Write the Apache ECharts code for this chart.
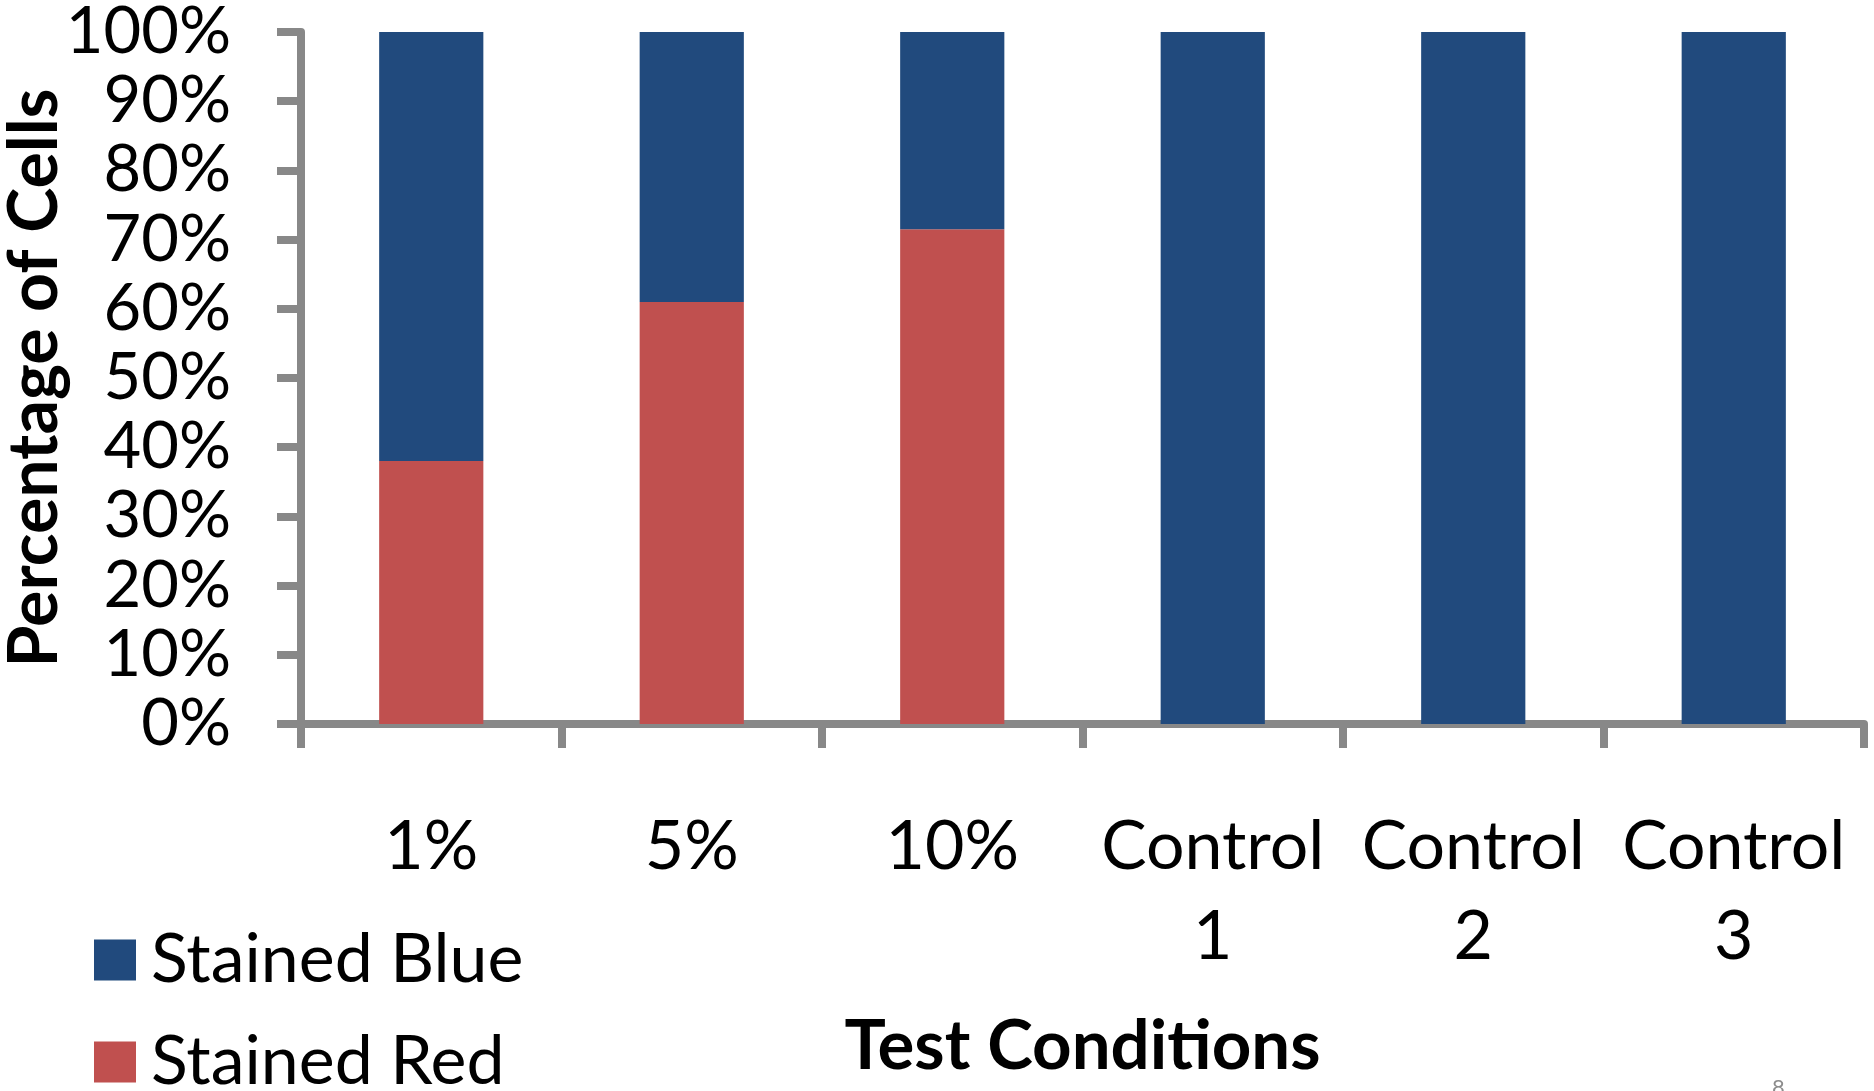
<!DOCTYPE html>
<html>
<head>
<meta charset="utf-8">
<script src="https://cdn.jsdelivr.net/npm/echarts@6/dist/echarts.min.js"></script>
<style>
  html, body { margin: 0; padding: 0; background: #fff; }
  #chart { width: 1874px; height: 1091px; }
</style>
</head>
<body>
<div id="chart"></div>
<script>
// Test conditions along the x axis
const categories = ['1%', '5%', '10%', 'Control\n1', 'Control\n2', 'Control\n3'];
// Share of cells stained red (bottom segment), in percent
const stainedRed = [38, 61, 71.5, 0, 0, 0];
// Share of cells stained blue (top segment), in percent
const stainedBlue = [62, 39, 28.5, 100, 100, 100];
// Y axis tick labels
const yTicks = ['0%', '10%', '20%', '30%', '40%', '50%', '60%', '70%', '80%', '90%', '100%'];

const FONT = 'Lato, "Open Sans", sans-serif';
const AXIS_GRAY = '#888888';

const legendText = { fontFamily: FONT, fontSize: 68, color: '#000', lineHeight: 41, padding: [0, 0, 0, 10] };

const chart = echarts.init(document.getElementById('chart'), null, { renderer: 'canvas' });

chart.setOption({
  backgroundColor: '#ffffff',
  animation: false,
  textStyle: { fontFamily: FONT, color: '#000' },
  grid: { left: 301, right: 10, top: 32, bottom: 367, containLabel: false, outerBoundsMode: 'none' },
  legend: [
    {
      data: ['Stained Blue'],
      left: 89,
      top: 921,
      itemWidth: 42,
      itemHeight: 41,
      icon: 'rect',
      textStyle: legendText
    },
    {
      data: ['Stained Red'],
      left: 89,
      top: 1023,
      itemWidth: 42,
      itemHeight: 41,
      icon: 'rect',
      textStyle: legendText
    }
  ],
  xAxis: {
    type: 'category',
    data: categories,
    boundaryGap: true,
    name: 'Test Conditions',
    nameLocation: 'middle',
    nameGap: 288,
    nameTextStyle: { fontFamily: FONT, fontWeight: 'bold', fontSize: 69, color: '#000' },
    axisLine: { show: true, lineStyle: { color: AXIS_GRAY, width: 8 } },
    axisTick: { show: true, length: 24, lineStyle: { color: AXIS_GRAY, width: 8 } },
    axisLabel: {
      interval: 0,
      margin: 78,
      fontFamily: FONT,
      fontSize: 68,
      lineHeight: 90,
      color: '#000'
    },
    splitLine: { show: false }
  },
  yAxis: {
    type: 'value',
    min: 0,
    max: 100,
    interval: 10,
    name: 'Percentage of Cells',
    nameLocation: 'middle',
    nameRotate: 90,
    nameGap: 232,
    nameMoveOverlap: false,
    nameTextStyle: { fontFamily: FONT, fontWeight: 'bold', fontSize: 68, color: '#000' },
    axisLine: { show: true, lineStyle: { color: AXIS_GRAY, width: 8 } },
    axisTick: { show: true, length: 24, lineStyle: { color: AXIS_GRAY, width: 8 } },
    axisLabel: {
      margin: 70,
      fontFamily: FONT,
      fontSize: 65,
      color: '#000',
      formatter: function (v) { return yTicks[Math.round(v / 10)]; }
    },
    splitLine: { show: false }
  },
  series: [
    {
      name: 'Stained Red',
      type: 'bar',
      stack: 'cells',
      barWidth: '40%',
      data: stainedRed,
      itemStyle: { color: '#C0504F' }
    },
    {
      name: 'Stained Blue',
      type: 'bar',
      stack: 'cells',
      barWidth: '40%',
      data: stainedBlue,
      itemStyle: { color: '#214A7D' }
    }
  ],
  graphic: [
    {
      type: 'text',
      left: 1772,
      top: 1077,
      style: { text: '8', fontFamily: FONT, fontSize: 22, fill: '#8c8c8c' }
    }
  ]
});
</script>
</body>
</html>
